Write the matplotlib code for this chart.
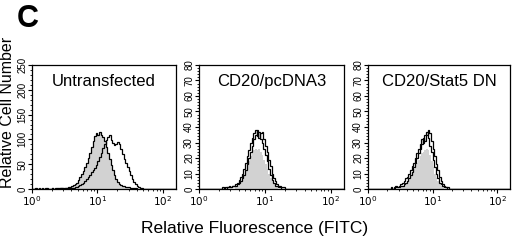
import numpy as np
import matplotlib
matplotlib.use("Agg")
import matplotlib.pyplot as plt
from matplotlib.ticker import MultipleLocator, LogLocator, NullFormatter, FixedLocator

plt.rcParams['font.family'] = ['Liberation Sans', 'DejaVu Sans']

# histogram grid: log10 bin edges, 0.025 decade wide
N_BINS = 88
BIN_W = 0.025

titles = ["Untransfected", "CD20/pcDNA3", "CD20/Stat5 DN"]
ymax = [250, 80, 80]
ystep = [50, 10, 10]

# Panel 1 (counts per bin)
p1_filled = [1,0,2,1,1,0,2,1,1,2,0,1,2,1,3,1,2,2,3,2,
             3,3,
             4,5,6,8,10,13,18,24,30,36,44,52,62,72,84,96,106,112,109,114,
             108,104,96,84,72,60,48,38,28,20,14,10,8,7,6,5,4,4,3,3,2,2,
             1,1,
             0,1,0,0,1,0,0,0,1,0,0,0,0,1,0,0,0,0,0,0,0,0]
p1_outline = [0,1,1,0,2,1,0,1,2,1,1,0,2,1,1,2,1,3,2,1,2,3,2,3,
              3,3,4,5,6,8,10,13,16,20,24,29,34,38,42,48,56,64,72,82,
              90,98,104,108,98,92,88,90,94,90,80,70,60,52,44,36,28,20,14,10,
              6,4,3,2,1,
              1,0,0,1,0,0,0,0,1,0,0,0,0,0,0,0,0,0,0]

# Panel 2 (start bin, counts)
p2_a_start, p2_a = 14, [1,0,1,1,2,1,2,2,3,4,6,8,10,13,17,21,25,30,33,36,38,34,37,32,30,26,22,18,13,9,6,4,2,2,1,1]
p2_b_start, p2_b = 16, [0,1,1,1,2,2,2,3,4,5,7,9,12,16,20,24,28,32,35,38,33,36,37,32,28,24,19,15,10,7,5,3,2,2,1,1]
p2_f_start, p2_f = 22, [1,2,3,5,7,9,12,15,18,21,23,25,26,25,26,24,22,19,16,13,10,7,5,3,2,1]

# Panel 3 (start bin, counts)
p3_a_start, p3_a = 14, [1,0,1,2,1,2,3,4,5,7,8,10,12,15,17,20,23,26,29,32,30,35,37,33,28,24,19,14,10,7,4,3,2,1,1]
p3_b_start, p3_b = 16, [0,1,1,1,2,2,3,4,5,7,9,11,14,17,20,23,26,29,33,31,35,38,36,31,26,21,16,12,8,5,3,2,1,1]
p3_f_start, p3_f = 20, [1,2,3,4,5,7,9,11,13,15,17,19,21,23,24,25,26,25,22,18,14,10,7,5,3,2,1]


def pad(start, vals):
    out = np.zeros(N_BINS)
    out[start:start + len(vals)] = vals
    return out


edges = 10 ** (np.arange(N_BINS + 1) * BIN_W)

panels = [
    (np.array(p1_filled, float), [np.array(p1_filled, float), np.array(p1_outline, float)]),
    (pad(p2_f_start, p2_f), [pad(p2_a_start, p2_a), pad(p2_b_start, p2_b)]),
    (pad(p3_f_start, p3_f), [pad(p3_a_start, p3_a), pad(p3_b_start, p3_b)]),
]

fig = plt.figure(figsize=(5.2, 2.4), dpi=100)
lefts = [32, 199, 368]
widths = [144, 145, 142]
for k in range(3):
    ax = fig.add_axes([lefts[k] / 520, 51 / 240, widths[k] / 520, 124 / 240])
    fill, outlines = panels[k]
    ax.stairs(fill, edges, fill=True, color='#d2d2d2', lw=0, zorder=1)
    for o in outlines:
        ax.stairs(o, edges, color='black', lw=0.9, zorder=2)
    ax.set_xscale('log')
    ax.set_xlim(1, 10 ** 2.2)
    ax.set_ylim(0, ymax[k])
    ax.xaxis.set_major_locator(FixedLocator([1, 10, 100]))
    ax.set_xticklabels([r'$10^0$', r'$10^1$', r'$10^2$'], fontsize=7.5)
    ax.xaxis.set_minor_locator(LogLocator(base=10, subs=np.arange(2, 10)))
    ax.xaxis.set_minor_formatter(NullFormatter())
    ax.yaxis.set_major_locator(MultipleLocator(ystep[k]))
    ax.yaxis.set_minor_locator(MultipleLocator(ystep[k] / 5))
    for lbl in ax.get_yticklabels():
        lbl.set_rotation(90)
        lbl.set_va('center')
        lbl.set_fontsize(7)
    ax.tick_params(axis='both', which='major', direction='out', length=3, width=0.8, pad=1)
    ax.tick_params(axis='both', which='minor', direction='out', length=1.5, width=0.6)
    ax.tick_params(axis='y', pad=0.5)
    for s in ax.spines.values():
        s.set_linewidth(0.9)
    ax.text(0.5, 0.93, titles[k], transform=ax.transAxes, ha='center', va='top',
            fontsize=12)

fig.text(17 / 520, 1 - 19 / 240, 'C', fontsize=22, fontweight='bold', ha='left', va='center')
fig.text(8 / 520, 1 - 112 / 240, 'Relative Cell Number', rotation=90, fontsize=11.5,
         ha='center', va='center')
fig.text(255 / 520, 1 - 228 / 240, 'Relative Fluorescence (FITC)', fontsize=12.5,
         ha='center', va='center')

fig.savefig('out.png', dpi=100)
